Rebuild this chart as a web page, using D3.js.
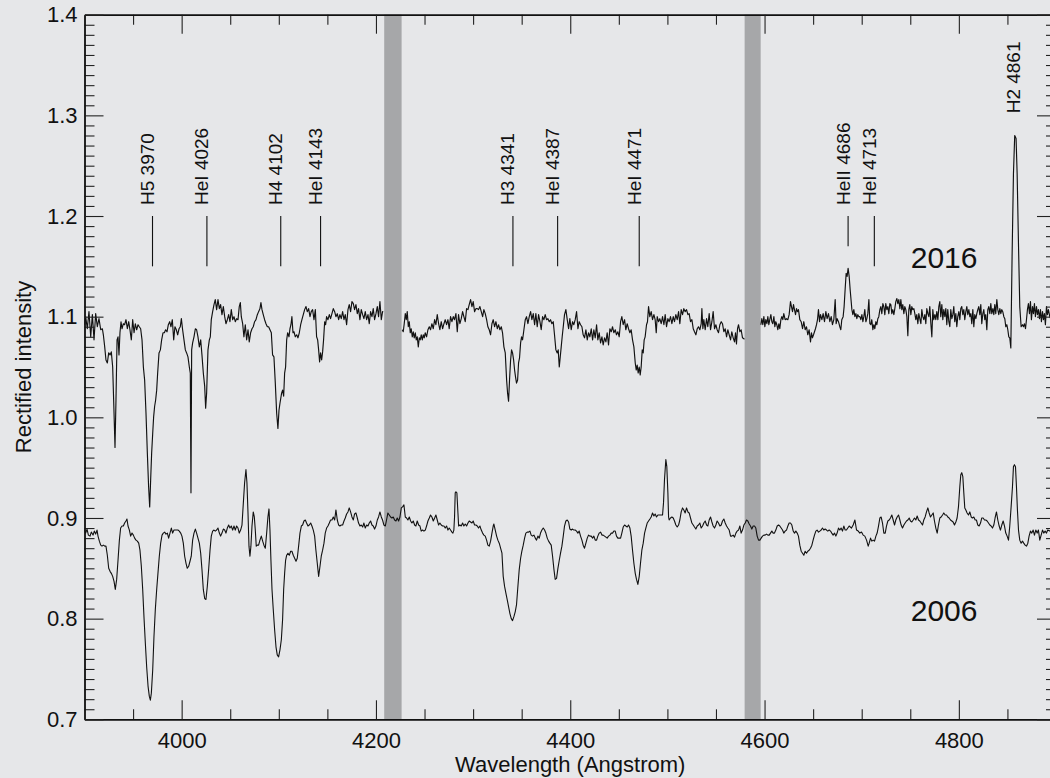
<!DOCTYPE html>
<html><head><meta charset="utf-8">
<script src="https://cdn.jsdelivr.net/npm/d3@7"></script>
<style>
html,body{margin:0;padding:0;background:#e6e7e9;}
svg{display:block;}
text{font-family:"Liberation Sans",Arial,Helvetica,sans-serif;fill:#111;}
</style>
</head><body>
<svg id="chart" width="1050" height="778"></svg>
<script>
// ---- data: [wavelength (Angstrom), rectified intensity]; null = masked gap ----
const spec2016 = [
[3900.0,1.092],[3901.2,1.100],[3902.9,1.088],[3904.6,1.105],[3906.4,1.080],[3908.1,1.102],[3909.8,1.077],[3911.5,1.103],[3913.2,1.090],[3914.9,1.098],[3916.7,1.087],[3918.4,1.088],[3919.4,1.082],[3920.8,1.070],[3922.1,1.057],[3923.5,1.054],[3924.9,1.064],[3926.3,1.062],[3927.6,1.065],[3929.0,1.050],[3930.4,1.004],[3931.4,0.970],[3932.4,1.017],[3933.5,1.077],[3934.5,1.080],[3935.5,1.062],[3936.5,1.084],[3937.6,1.095],[3938.6,1.088],[3940.0,1.093],[3941.3,1.092],[3942.7,1.097],[3944.1,1.088],[3945.5,1.095],[3946.8,1.087],[3948.2,1.077],[3949.6,1.097],[3951.0,1.084],[3952.3,1.093],[3953.7,1.087],[3955.1,1.092],[3956.4,1.090],[3957.8,1.088],[3959.2,1.077],[3960.6,1.050],[3961.9,1.037],[3963.3,1.004],[3964.7,0.964],[3966.0,0.931],[3967.1,0.911],[3968.1,0.938],[3969.1,0.964],[3970.2,0.984],[3971.2,1.001],[3972.2,1.011],[3973.2,1.017],[3974.3,1.027],[3975.3,1.044],[3976.7,1.064],[3978.1,1.067],[3979.4,1.077],[3980.8,1.084],[3982.2,1.084],[3983.5,1.087],[3984.9,1.085],[3986.3,1.092],[3987.7,1.095],[3989.0,1.090],[3990.4,1.097],[3991.8,1.077],[3993.1,1.090],[3994.5,1.087],[3995.9,1.082],[3997.3,1.088],[3998.6,1.090],[3999.7,1.098],[4001.0,1.087],[4002.4,1.077],[4003.8,1.067],[4005.1,1.064],[4006.5,1.060],[4007.9,1.050],[4008.9,1.044],[4009.6,0.925],[4010.3,1.067],[4011.3,1.074],[4012.7,1.080],[4014.1,1.088],[4015.4,1.087],[4016.8,1.080],[4018.2,1.070],[4019.6,1.077],[4020.9,1.062],[4022.3,1.044],[4023.7,1.031],[4024.7,1.009],[4025.7,1.024],[4027.1,1.067],[4028.5,1.077],[4029.5,1.080],[4030.5,1.097],[4031.9,1.105],[4033.3,1.112],[4034.6,1.117],[4036.0,1.107],[4037.4,1.117],[4038.8,1.108],[4040.1,1.112],[4041.5,1.102],[4042.9,1.110],[4044.3,1.100],[4045.6,1.093],[4047.0,1.097],[4048.4,1.102],[4049.7,1.095],[4051.1,1.107],[4052.5,1.097],[4053.9,1.100],[4055.2,1.095],[4056.6,1.098],[4058.0,1.097],[4059.3,1.110],[4060.4,1.114],[4061.4,1.100],[4062.8,1.093],[4064.1,1.080],[4065.5,1.092],[4066.9,1.077],[4068.3,1.087],[4069.6,1.075],[4071.0,1.084],[4072.4,1.088],[4073.7,1.090],[4075.1,1.095],[4076.5,1.097],[4077.9,1.102],[4079.2,1.105],[4080.6,1.108],[4081.6,1.114],[4082.7,1.107],[4084.0,1.102],[4085.4,1.097],[4086.8,1.093],[4088.2,1.090],[4089.5,1.090],[4090.9,1.087],[4092.3,1.084],[4093.6,1.062],[4095.0,1.060],[4096.4,1.034],[4097.8,1.004],[4099.1,0.989],[4100.2,1.007],[4101.2,1.014],
[4102.9,1.024],[4103.9,1.027],[4105.0,1.021],[4106.0,1.044],[4107.0,1.050],[4108.1,1.077],[4109.1,1.084],[4110.5,1.080],[4111.5,1.088],[4112.5,1.092],[4113.5,1.100],[4114.6,1.084],[4115.6,1.085],[4117.0,1.080],[4118.4,1.082],[4119.7,1.079],[4121.1,1.084],[4122.5,1.092],[4123.8,1.097],[4125.2,1.102],[4126.6,1.107],[4128.0,1.110],[4129.3,1.105],[4130.7,1.108],[4132.1,1.100],[4133.4,1.105],[4134.8,1.107],[4136.2,1.097],[4137.6,1.107],[4138.9,1.080],[4140.0,1.077],[4141.0,1.067],[4142.0,1.055],[4143.0,1.064],[4144.1,1.057],[4145.1,1.065],[4146.1,1.077],[4147.2,1.095],[4148.2,1.092],[4149.2,1.100],[4150.6,1.097],[4152.0,1.102],[4153.3,1.098],[4154.7,1.103],[4156.1,1.108],[4157.5,1.105],[4158.8,1.100],[4160.2,1.103],[4161.6,1.097],[4162.9,1.102],[4164.3,1.098],[4165.7,1.105],[4167.1,1.097],[4168.4,1.102],[4169.8,1.092],[4171.2,1.107],[4172.5,1.112],[4173.9,1.105],[4175.3,1.115],[4176.7,1.113],[4178.0,1.107],[4179.4,1.112],[4180.8,1.103],[4182.1,1.108],[4183.5,1.097],[4184.9,1.107],[4186.3,1.102],[4187.6,1.098],[4189.0,1.105],[4190.4,1.097],[4191.8,1.102],[4193.1,1.093],[4194.5,1.105],[4195.9,1.100],[4197.2,1.108],[4198.6,1.097],[4200.0,1.103],[4201.4,1.110],[4202.7,1.100],[4204.1,1.115],[4205.5,1.097],[4206.8,1.105],[4207.5,1.105],
[4217.0,null],
[4227.1,1.087],[4228.1,1.085],[4229.1,1.093],[4230.2,1.103],[4231.2,1.097],[4232.2,1.105],[4233.3,1.090],[4234.3,1.095],[4235.3,1.084],[4236.3,1.088],[4237.4,1.080],[4238.4,1.085],[4239.4,1.079],[4240.5,1.084],[4241.5,1.077],[4242.5,1.080],[4243.6,1.070],[4244.6,1.079],[4245.6,1.077],[4246.6,1.082],[4247.7,1.077],[4248.7,1.082],[4249.7,1.079],[4250.7,1.084],[4252.1,1.080],[4253.5,1.087],[4254.9,1.090],[4256.2,1.087],[4257.6,1.093],[4259.0,1.088],[4260.4,1.097],[4261.7,1.092],[4263.1,1.102],[4264.5,1.093],[4265.8,1.087],[4267.2,1.095],[4268.6,1.088],[4270.0,1.093],[4271.3,1.097],[4272.7,1.092],[4274.1,1.097],[4275.4,1.088],[4276.8,1.100],[4278.2,1.095],[4279.6,1.100],[4280.9,1.097],[4282.3,1.103],[4283.7,1.085],[4285.0,1.102],[4286.4,1.093],[4287.8,1.098],[4289.2,1.105],[4290.5,1.100],[4291.9,1.095],[4293.3,1.108],[4294.7,1.107],[4296.0,1.112],[4297.4,1.117],[4298.8,1.110],[4300.1,1.115],[4301.5,1.105],[4302.9,1.108],
[4304.3,1.108],[4305.6,1.107],[4307.0,1.110],[4308.4,1.105],[4309.8,1.100],[4311.1,1.107],[4312.5,1.103],[4313.9,1.097],[4315.2,1.090],[4316.6,1.087],[4318.0,1.082],[4319.4,1.093],[4320.7,1.097],[4322.1,1.090],[4323.5,1.095],[4324.9,1.088],[4326.2,1.092],[4327.6,1.087],[4329.0,1.090],[4330.3,1.084],[4331.7,1.070],[4333.1,1.064],[4334.5,1.037],[4335.5,1.024],[4336.5,1.016],[4337.5,1.037],[4338.6,1.057],[4339.6,1.067],[4340.6,1.064],[4341.7,1.057],[4342.7,1.047],[4343.7,1.040],[4344.7,1.034],[4345.8,1.037],[4346.8,1.054],[4347.8,1.059],[4348.9,1.074],[4349.9,1.080],[4350.9,1.077],[4352.3,1.087],[4353.7,1.097],[4355.0,1.100],[4356.4,1.093],[4357.8,1.100],[4359.2,1.105],[4360.5,1.097],[4361.9,1.103],[4363.3,1.092],[4364.6,1.103],[4366.0,1.090],[4367.4,1.102],[4368.8,1.095],[4370.1,1.087],[4371.5,1.100],[4372.9,1.097],[4374.2,1.102],[4375.6,1.097],[4377.0,1.098],[4378.4,1.095],[4379.7,1.097],[4381.1,1.093],[4382.5,1.095],[4383.8,1.082],[4385.2,1.067],[4386.6,1.064],[4387.6,1.067],[4388.7,1.050],[4389.7,1.060],[4390.7,1.070],[4391.7,1.080],[4392.8,1.090],[4394.1,1.102],[4395.5,1.107],[4396.9,1.097],[4398.3,1.088],[4399.6,1.098],[4401.0,1.087],[4402.4,1.095],[4403.7,1.092],[4405.1,1.097],[4406.5,1.105],[4407.9,1.088],[4409.2,1.095],[4410.6,1.092],[4412.0,1.090],[4413.3,1.082],[4414.7,1.079],[4416.1,1.087],[4417.5,1.077],[4418.8,1.084],[4420.2,1.080],[4421.6,1.088],[4423.0,1.077],[4424.3,1.087],[4425.7,1.079],[4427.1,1.092],[4428.4,1.077],[4429.8,1.084],[4431.2,1.074],[4432.6,1.080],[4433.9,1.072],[4435.3,1.079],[4436.7,1.075],[4438.0,1.084],[4439.4,1.072],[4440.8,1.088],[4442.2,1.085],[4443.5,1.090],[4444.9,1.084],[4446.3,1.087],[4447.6,1.082],[4449.0,1.085],[4450.4,1.080],[4451.8,1.095],[4453.1,1.100],[4454.5,1.092],[4455.9,1.097],[4457.2,1.087],[4458.6,1.093],[4460.0,1.088],[4461.4,1.084],[4462.7,1.087],[4464.1,1.077],[4465.5,1.070],[4466.9,1.054],[4467.9,1.047],[4468.9,1.052],[4469.9,1.044],[4471.0,1.050],[4472.0,1.042],[4473.0,1.050],[4474.1,1.067],[4475.1,1.064],[4476.1,1.077],[4477.1,1.080],[4478.5,1.092],[4479.5,1.095],[4480.6,1.110],[4481.9,1.100],[4483.3,1.105],[4484.7,1.097],[4486.1,1.102],[4487.4,1.097],[4488.5,1.084],[4489.5,1.100],[4490.9,1.095],[4492.2,1.098],[4493.6,1.093],[4495.0,1.100],[4496.4,1.092],[4497.7,1.102],[4499.1,1.090],[4500.5,1.098],[4501.8,1.095],[4503.2,1.100],[4504.6,1.093],
[4506.0,1.100],[4507.3,1.095],[4508.7,1.102],[4510.1,1.097],[4511.5,1.105],[4512.8,1.093],[4514.2,1.107],[4515.6,1.102],[4516.9,1.108],[4518.3,1.105],[4519.7,1.107],[4521.1,1.102],[4522.4,1.103],[4523.8,1.095],[4525.2,1.097],[4526.6,1.088],[4527.9,1.085],[4529.3,1.082],[4530.7,1.088],[4532.0,1.090],[4533.4,1.087],[4534.8,1.093],[4535.5,1.108],[4536.5,1.088],[4537.5,1.097],[4538.9,1.087],[4540.3,1.098],[4541.6,1.090],[4543.0,1.103],[4544.4,1.087],[4545.8,1.095],[4547.1,1.105],[4548.5,1.088],[4549.9,1.092],[4551.2,1.087],[4552.6,1.084],[4554.0,1.092],[4555.4,1.095],[4556.7,1.093],[4558.1,1.085],[4559.5,1.088],[4560.9,1.080],[4562.2,1.087],[4563.6,1.082],[4565.0,1.077],[4566.3,1.085],[4567.7,1.079],[4569.1,1.075],[4570.1,1.084],[4571.1,1.073],[4572.2,1.088],[4573.2,1.092],[4574.6,1.085],[4575.9,1.087],[4577.3,1.079],[4578.7,1.078],[4579.4,1.078],
[4588.0,null],
[4596.2,1.092],[4597.2,1.098],[4598.2,1.092],[4599.3,1.100],[4600.3,1.090],[4601.3,1.097],[4602.4,1.093],[4603.4,1.100],[4604.4,1.092],[4605.4,1.097],[4606.5,1.102],[4607.5,1.095],[4608.5,1.093],[4609.6,1.100],[4610.6,1.090],[4611.6,1.095],[4612.6,1.092],[4613.7,1.087],[4614.7,1.093],[4615.7,1.088],[4616.8,1.097],[4617.8,1.100],[4618.8,1.097],[4619.8,1.103],[4621.2,1.097],[4622.6,1.098],[4624.0,1.097],[4625.3,1.102],[4626.7,1.115],[4627.7,1.110],[4628.8,1.105],[4629.8,1.112],[4630.8,1.107],[4631.9,1.102],[4632.9,1.108],[4633.9,1.105],[4634.9,1.107],[4636.3,1.097],[4637.7,1.095],[4639.1,1.088],[4640.4,1.095],[4641.8,1.087],[4643.2,1.090],[4644.5,1.082],[4645.9,1.087],[4647.3,1.075],[4648.3,1.084],[4649.3,1.079],[4650.4,1.082],[4651.4,1.085],[4652.4,1.088],[4653.5,1.092],[4654.5,1.097],[4655.5,1.107],[4656.6,1.095],[4657.6,1.102],[4659.0,1.097],[4660.3,1.103],[4661.7,1.095],[4663.1,1.105],[4664.4,1.098],[4665.8,1.103],[4667.2,1.095],[4668.6,1.100],[4669.9,1.092],[4671.3,1.097],[4672.7,1.117],[4673.7,1.093],[4674.7,1.098],[4676.1,1.095],[4677.5,1.090],[4678.5,1.087],[4679.5,1.097],[4680.9,1.100],[4681.9,1.110],[4683.0,1.128],[4684.0,1.143],[4685.0,1.140],[4686.0,1.148],[4687.1,1.140],[4688.1,1.127],
[4689.9,1.107],[4690.9,1.102],[4691.9,1.107],[4693.0,1.100],[4694.0,1.103],[4695.0,1.098],[4696.0,1.102],[4697.1,1.100],[4698.1,1.100],[4699.1,1.097],[4700.2,1.102],[4701.2,1.095],[4702.2,1.100],[4703.2,1.107],[4704.3,1.095],[4705.3,1.098],[4706.3,1.103],[4707.4,1.117],[4708.4,1.093],[4709.4,1.092],[4710.4,1.097],[4711.5,1.087],[4712.5,1.092],[4713.5,1.088],[4714.6,1.095],[4715.6,1.092],[4716.6,1.098],[4717.6,1.100],[4718.7,1.107],[4719.7,1.110],[4720.7,1.103],[4721.8,1.113],[4722.8,1.110],[4723.8,1.102],[4724.8,1.113],[4725.9,1.107],[4726.9,1.110],[4727.9,1.103],[4729.0,1.113],[4730.0,1.112],[4731.0,1.103],[4732.0,1.107],[4733.1,1.102],[4734.1,1.108],[4735.1,1.115],[4736.2,1.118],[4737.2,1.113],[4738.2,1.117],[4739.3,1.108],[4740.3,1.117],[4741.3,1.107],[4742.3,1.112],[4743.4,1.103],[4744.4,1.110],[4745.4,1.107],[4746.5,1.100],[4747.5,1.081],[4748.5,1.107],[4749.5,1.112],[4750.6,1.102],[4751.6,1.110],[4752.6,1.107],[4753.7,1.108],[4754.7,1.103],[4755.7,1.097],[4756.7,1.102],[4757.8,1.093],[4758.8,1.103],[4759.8,1.098],[4760.9,1.093],[4761.9,1.107],[4762.9,1.100],[4763.9,1.097],[4765.0,1.102],[4766.0,1.093],[4767.0,1.108],[4768.1,1.103],[4769.1,1.100],[4770.1,1.110],[4771.2,1.093],[4772.2,1.080],[4773.2,1.107],[4774.2,1.097],[4775.3,1.102],[4776.3,1.097],[4777.3,1.105],[4778.4,1.097],[4779.4,1.110],[4780.4,1.115],[4781.4,1.100],[4782.5,1.112],[4783.5,1.097],[4784.5,1.107],[4785.6,1.100],[4786.6,1.108],[4787.6,1.092],[4788.6,1.107],[4789.7,1.095],[4790.7,1.090],[4791.7,1.107],[4792.8,1.098],[4793.8,1.102],[4794.8,1.110],[4795.8,1.095],[4796.9,1.103],[4797.9,1.090],[4798.9,1.100],[4800.0,1.105],[4801.0,1.097],[4802.0,1.108],[4803.0,1.110],[4804.1,1.102],[4805.1,1.107],[4806.1,1.097],[4807.2,1.105],[4808.2,1.110],[4809.2,1.102],[4810.3,1.107],[4811.3,1.100],[4812.3,1.103],[4813.3,1.093],[4814.4,1.107],[4815.4,1.090],[4816.4,1.102],[4817.5,1.098],[4818.5,1.103],[4819.5,1.107],[4820.5,1.110],[4821.6,1.102],[4822.6,1.112],[4823.6,1.093],[4824.7,1.103],[4825.7,1.107],[4826.7,1.097],[4827.7,1.102],[4828.8,1.087],[4829.8,1.107],[4830.8,1.110],[4831.9,1.103],[4832.9,1.113],[4833.9,1.103],[4835.0,1.108],[4836.0,1.102],[4837.0,1.112],[4838.0,1.103],[4839.1,1.117],[4840.1,1.107],[4841.1,1.102],[4842.2,1.108],[4843.2,1.103],[4844.2,1.107],[4845.2,1.105],[4846.3,1.100],[4847.3,1.098],[4848.3,1.090],[4849.4,1.092],[4850.4,1.087],[4851.4,1.080],[4852.4,1.079],[4853.5,1.069],[4854.8,1.160],[4856.2,1.242],[4857.5,1.280],[4858.9,1.277],[4860.0,1.242],[4861.3,1.176],[4862.7,1.110],[4864.1,1.090],[4865.5,1.092],[4866.5,1.090],[4867.5,1.093],[4868.6,1.088],[4869.6,1.097],[4870.6,1.107],[4871.6,1.113],[4872.7,1.103],[4873.7,1.115],[4874.7,1.097],[4875.8,1.110],[4876.8,1.103],[4877.8,1.113],[4878.8,1.100],[4879.9,1.110],[4880.9,1.102],[4881.9,1.107],[4883.0,1.098],[4884.0,1.107],[4885.0,1.095],[4886.1,1.105],[4887.1,1.097],[4888.1,1.103],[4889.1,1.092],[4890.2,1.110],[4891.2,1.102],[4892.2,1.107],[4893.6,1.100],[4896.0,1.095],[4899.0,1.104]
];

const spec2006 = [
[3900.0,0.888],[3901.2,0.885],[3902.6,0.889],[3904.0,0.883],[3905.7,0.882],[3907.0,0.886],[3908.8,0.883],[3910.1,0.887],[3911.5,0.884],[3912.9,0.888],[3913.9,0.882],[3915.3,0.877],[3916.7,0.873],[3918.0,0.872],[3919.4,0.873],[3920.8,0.872],[3922.1,0.872],[3923.5,0.863],[3924.9,0.850],[3926.3,0.847],[3927.6,0.845],[3929.0,0.842],[3930.4,0.837],[3931.7,0.829],[3933.1,0.839],[3934.5,0.858],[3935.9,0.878],[3937.2,0.890],[3938.6,0.892],[3940.0,0.892],[3941.3,0.895],[3942.7,0.897],[3943.7,0.899],[3944.8,0.892],[3946.2,0.888],[3947.5,0.882],[3948.9,0.885],[3950.3,0.883],[3951.6,0.880],[3953.0,0.878],[3954.4,0.877],[3955.8,0.875],[3957.1,0.868],[3958.5,0.852],[3959.9,0.829],[3961.2,0.802],[3962.6,0.776],[3964.0,0.752],[3965.4,0.733],[3966.7,0.723],[3967.8,0.719],[3968.8,0.726],[3970.2,0.749],[3971.5,0.782],[3972.9,0.809],[3974.3,0.829],[3975.6,0.845],[3977.0,0.862],[3978.4,0.875],[3979.8,0.883],[3981.1,0.885],[3982.5,0.886],[3983.9,0.884],[3985.3,0.885],[3986.6,0.880],[3988.0,0.885],[3989.4,0.890],[3990.7,0.885],[3992.1,0.888],[3994.2,0.888],[3996.2,0.888],[3997.6,0.887],[3999.0,0.885],[4000.3,0.882],[4001.7,0.875],[4003.1,0.862],[4004.5,0.855],[4005.8,0.850],[4007.2,0.852],[4008.6,0.857],[4009.9,0.862],[4011.3,0.878],[4012.7,0.885],[4014.1,0.889],[4015.4,0.885],[4016.8,0.880],[4018.2,0.875],[4019.6,0.865],[4020.9,0.849],[4022.3,0.829],[4023.7,0.820],[4025.0,0.819],[4026.4,0.832],[4027.8,0.849],[4029.2,0.868],[4030.5,0.882],[4031.9,0.887],[4033.3,0.888],[4034.6,0.887],[4036.0,0.888],[4037.4,0.890],[4038.8,0.885],[4040.1,0.882],[4041.5,0.885],[4042.9,0.889],[4044.3,0.888],[4045.6,0.885],[4047.0,0.890],[4048.4,0.893],[4049.7,0.890],[4051.1,0.892],[4052.5,0.888],[4053.9,0.892],[4055.2,0.888],[4056.6,0.892],[4058.0,0.890],[4059.3,0.885],[4060.7,0.888],[4062.1,0.893],[4063.5,0.915],[4064.8,0.935],[4066.2,0.948],[4067.2,0.935],[4068.3,0.905],[4069.3,0.872],[4070.3,0.862],[4071.3,0.872],[4072.4,0.892],[4073.7,0.906],[4074.8,0.901],[4075.8,0.888],[4076.8,0.872],[4077.9,0.873],[4079.2,0.873],[4080.6,0.878],[4082.0,0.882],[4083.4,0.877],[4084.7,0.873],[4086.1,0.870],[4087.5,0.885],[4088.8,0.901],[4089.9,0.909],[4090.9,0.888],[4091.9,0.858],[4093.0,0.829],[4094.3,0.809],[4095.7,0.789],[4097.1,0.772],[4098.4,0.764],[4099.8,0.762],[4101.2,0.769],
[4102.6,0.779],[4103.9,0.799],[4105.0,0.829],[4106.0,0.845],[4107.0,0.858],[4108.1,0.863],[4109.4,0.865],[4110.8,0.863],[4112.2,0.867],[4113.5,0.867],[4114.9,0.863],[4116.3,0.860],[4117.7,0.857],[4119.0,0.860],[4120.4,0.872],[4121.8,0.885],[4123.2,0.892],[4124.5,0.893],[4125.9,0.897],[4127.3,0.898],[4128.6,0.895],[4130.0,0.892],[4131.4,0.893],[4132.8,0.895],[4134.1,0.892],[4135.5,0.888],[4136.9,0.882],[4138.2,0.868],[4139.6,0.855],[4141.0,0.842],[4142.4,0.852],[4143.7,0.862],[4145.1,0.868],[4146.5,0.875],[4147.8,0.885],[4149.2,0.890],[4150.6,0.892],[4152.0,0.895],[4153.3,0.898],[4154.7,0.898],[4156.1,0.901],[4157.5,0.898],[4158.8,0.908],[4160.2,0.898],[4161.6,0.893],[4162.9,0.892],[4164.3,0.893],[4165.7,0.893],[4167.1,0.897],[4168.4,0.900],[4169.8,0.904],[4171.2,0.906],[4172.5,0.910],[4173.9,0.906],[4175.3,0.901],[4176.7,0.898],[4178.0,0.904],[4179.4,0.905],[4180.8,0.900],[4182.1,0.895],[4183.5,0.892],[4184.9,0.893],[4186.3,0.891],[4187.6,0.895],[4189.0,0.890],[4190.4,0.893],[4191.8,0.892],[4193.1,0.895],[4194.5,0.897],[4195.9,0.893],[4197.2,0.892],[4198.6,0.889],[4200.0,0.892],[4201.4,0.898],[4202.7,0.901],[4204.1,0.906],[4205.5,0.901],[4206.8,0.898],[4208.2,0.893],[4209.6,0.892],[4210.9,0.898],[4212.3,0.905],[4213.7,0.903],[4215.1,0.901],[4216.4,0.900],[4217.8,0.901],[4219.2,0.898],[4220.6,0.897],[4221.9,0.900],[4223.3,0.897],[4224.7,0.901],[4226.1,0.910],[4227.4,0.911],[4228.8,0.913],[4230.2,0.901],[4231.5,0.900],[4232.9,0.898],[4234.3,0.901],[4235.7,0.897],[4237.0,0.895],[4238.4,0.897],[4239.8,0.893],[4241.1,0.892],[4242.5,0.897],[4243.9,0.893],[4245.3,0.892],[4246.6,0.887],[4248.0,0.888],[4249.4,0.887],[4250.8,0.888],[4252.1,0.892],[4253.5,0.897],[4254.9,0.900],[4256.2,0.903],[4257.6,0.901],[4259.0,0.897],[4260.4,0.900],[4261.7,0.903],[4263.1,0.898],[4264.5,0.893],[4265.8,0.895],[4267.2,0.893],[4268.6,0.892],[4270.0,0.892],[4271.3,0.890],[4272.7,0.892],[4274.1,0.888],[4275.4,0.890],[4276.8,0.888],[4278.2,0.886],[4279.2,0.885],[4280.2,0.888],[4280.9,0.901],[4281.6,0.925],[4282.3,0.926],[4283.3,0.925],[4284.4,0.905],[4285.1,0.892],[4286.4,0.893],[4287.8,0.892],[4289.2,0.895],[4290.5,0.892],[4291.9,0.894],[4293.3,0.892],[4294.7,0.895],[4296.0,0.897],[4297.4,0.896],[4298.8,0.895],[4300.1,0.897],[4301.5,0.893],[4302.9,0.893],
[4304.3,0.892],[4305.6,0.890],[4307.0,0.892],[4308.4,0.888],[4309.8,0.885],[4311.1,0.883],[4312.5,0.882],[4313.9,0.878],[4315.2,0.873],[4316.6,0.872],[4318.0,0.877],[4319.4,0.885],[4320.7,0.892],[4321.4,0.894],[4322.8,0.888],[4324.2,0.882],[4325.5,0.878],[4326.9,0.875],[4328.3,0.870],[4329.7,0.865],[4331.0,0.842],[4332.4,0.832],[4333.8,0.825],[4335.1,0.819],[4336.5,0.812],[4337.9,0.805],[4339.3,0.800],[4340.6,0.798],[4342.0,0.802],[4343.4,0.807],[4344.7,0.814],[4346.1,0.832],[4347.5,0.849],[4348.9,0.860],[4350.2,0.867],[4351.6,0.873],[4353.0,0.880],[4354.3,0.885],[4355.7,0.886],[4357.1,0.886],[4358.5,0.887],[4359.8,0.883],[4361.2,0.882],[4362.6,0.883],[4364.0,0.880],[4365.3,0.878],[4366.7,0.882],[4368.1,0.880],[4369.4,0.885],[4370.8,0.888],[4372.2,0.890],[4373.6,0.888],[4374.9,0.885],[4376.3,0.880],[4377.7,0.877],[4379.0,0.875],[4380.4,0.873],[4381.8,0.862],[4383.2,0.849],[4384.5,0.839],[4385.9,0.840],[4387.3,0.850],[4388.7,0.858],[4390.0,0.865],[4391.4,0.872],[4392.8,0.882],[4394.1,0.892],[4395.5,0.897],[4396.9,0.898],[4398.3,0.896],[4399.6,0.889],[4401.0,0.888],[4402.4,0.889],[4403.7,0.888],[4405.1,0.888],[4406.5,0.887],[4407.9,0.885],[4409.2,0.887],[4410.6,0.882],[4412.0,0.878],[4413.3,0.873],[4414.7,0.870],[4416.1,0.875],[4417.5,0.880],[4418.8,0.883],[4420.2,0.882],[4421.6,0.882],[4423.0,0.880],[4424.3,0.882],[4425.7,0.878],[4427.1,0.878],[4428.4,0.882],[4429.8,0.885],[4431.2,0.886],[4432.6,0.883],[4433.9,0.883],[4435.3,0.882],[4436.7,0.881],[4438.0,0.880],[4439.4,0.882],[4440.8,0.883],[4442.2,0.885],[4443.5,0.885],[4444.9,0.887],[4446.3,0.887],[4447.6,0.882],[4449.0,0.880],[4450.4,0.880],[4451.8,0.880],[4453.1,0.885],[4454.5,0.891],[4455.9,0.893],[4457.2,0.892],[4458.6,0.891],[4460.0,0.893],[4461.4,0.890],[4462.7,0.882],[4464.1,0.868],[4465.5,0.855],[4466.9,0.845],[4468.2,0.839],[4469.6,0.834],[4471.0,0.842],[4472.3,0.855],[4473.7,0.868],[4475.1,0.875],[4476.5,0.885],[4477.8,0.890],[4479.2,0.895],[4480.6,0.897],[4482.0,0.899],[4483.3,0.901],[4484.7,0.905],[4486.1,0.902],[4487.4,0.904],[4488.8,0.901],[4490.2,0.903],[4491.6,0.903],[4492.9,0.903],[4494.3,0.903],[4495.0,0.903],[4496.0,0.915],[4497.0,0.938],[4498.4,0.958],[4499.4,0.951],[4500.5,0.925],[4501.2,0.901],[4501.8,0.898],[4503.2,0.900],[4504.6,0.901],
[4506.0,0.900],[4507.3,0.897],[4508.7,0.893],[4510.1,0.891],[4511.5,0.893],[4512.8,0.898],[4514.2,0.906],[4515.6,0.910],[4516.9,0.908],[4518.3,0.905],[4519.7,0.910],[4521.1,0.906],[4522.4,0.905],[4523.8,0.900],[4525.2,0.895],[4526.6,0.893],[4527.9,0.891],[4529.3,0.889],[4530.7,0.892],[4532.0,0.893],[4533.4,0.895],[4534.8,0.890],[4536.2,0.892],[4537.5,0.895],[4538.9,0.897],[4540.3,0.893],[4541.6,0.892],[4543.0,0.898],[4544.4,0.901],[4545.8,0.896],[4547.1,0.892],[4548.5,0.890],[4549.9,0.893],[4551.2,0.897],[4552.6,0.895],[4554.0,0.892],[4555.4,0.893],[4556.7,0.897],[4558.1,0.899],[4559.5,0.895],[4560.9,0.892],[4562.2,0.890],[4563.6,0.888],[4565.0,0.882],[4566.3,0.882],[4567.7,0.883],[4569.1,0.881],[4570.5,0.885],[4571.8,0.887],[4573.2,0.888],[4574.6,0.892],[4575.9,0.885],[4577.3,0.888],[4578.7,0.893],[4580.1,0.895],[4581.4,0.898],[4582.8,0.897],[4584.2,0.894],[4585.5,0.892],[4586.9,0.889],[4588.3,0.892],[4589.7,0.892],[4591.0,0.890],[4592.4,0.882],[4593.8,0.878],[4595.2,0.878],[4596.5,0.880],[4597.9,0.882],[4599.3,0.883],[4600.6,0.883],[4602.0,0.884],[4603.4,0.883],[4604.8,0.883],[4606.1,0.885],[4607.5,0.887],[4608.9,0.885],[4610.2,0.885],[4611.6,0.888],[4613.0,0.892],[4614.4,0.893],[4615.7,0.892],[4617.1,0.890],[4618.5,0.888],[4619.8,0.885],[4621.2,0.887],[4622.6,0.888],[4624.0,0.892],[4625.3,0.895],[4626.7,0.895],[4628.1,0.893],[4629.5,0.887],[4630.8,0.885],[4632.2,0.887],[4633.6,0.885],[4634.9,0.882],[4636.3,0.873],[4637.7,0.867],[4639.1,0.865],[4640.4,0.863],[4641.8,0.867],[4643.2,0.865],[4644.5,0.867],[4645.9,0.868],[4647.3,0.870],[4648.7,0.873],[4650.0,0.878],[4651.4,0.883],[4652.8,0.887],[4654.1,0.888],[4655.5,0.886],[4656.9,0.887],[4658.3,0.888],[4659.6,0.890],[4661.0,0.888],[4662.4,0.889],[4663.8,0.888],[4665.1,0.887],[4666.5,0.888],[4667.9,0.887],[4669.2,0.885],[4670.6,0.883],[4672.0,0.885],[4673.4,0.882],[4674.7,0.885],[4676.1,0.890],[4677.5,0.888],[4678.8,0.890],[4680.2,0.887],[4681.6,0.892],[4683.0,0.888],[4684.3,0.888],[4685.7,0.890],[4687.1,0.892],
[4689.5,0.890],[4691.2,0.893],[4693.0,0.898],[4694.7,0.888],[4696.4,0.887],[4698.1,0.885],[4699.8,0.886],[4701.5,0.883],[4703.2,0.882],[4705.0,0.878],[4706.7,0.872],[4707.7,0.875],[4709.1,0.880],[4710.4,0.877],[4711.8,0.878],[4713.2,0.877],[4714.6,0.882],[4715.9,0.885],[4717.3,0.892],[4718.7,0.900],[4720.0,0.901],[4721.4,0.895],[4722.8,0.885],[4724.2,0.885],[4725.5,0.892],[4726.9,0.897],[4728.3,0.898],[4729.6,0.900],[4731.0,0.903],[4732.4,0.898],[4733.8,0.893],[4735.1,0.898],[4736.5,0.901],[4737.9,0.903],[4739.3,0.898],[4740.6,0.893],[4742.0,0.890],[4743.4,0.893],[4744.7,0.895],[4746.1,0.897],[4747.5,0.898],[4748.9,0.900],[4750.2,0.897],[4751.6,0.896],[4753.0,0.898],[4754.3,0.900],[4755.7,0.898],[4757.1,0.902],[4758.5,0.898],[4759.8,0.897],[4761.2,0.895],[4762.6,0.893],[4763.9,0.898],[4765.3,0.901],[4766.7,0.906],[4768.1,0.910],[4769.4,0.905],[4770.8,0.901],[4772.2,0.903],[4773.6,0.905],[4774.9,0.897],[4776.3,0.890],[4777.7,0.885],[4779.0,0.893],[4780.4,0.900],[4781.8,0.901],[4783.2,0.903],[4784.5,0.905],[4785.9,0.903],[4787.3,0.903],[4788.6,0.901],[4790.0,0.900],[4791.4,0.898],[4792.8,0.897],[4794.1,0.896],[4795.5,0.893],[4796.9,0.896],[4798.2,0.900],[4799.6,0.911],[4801.0,0.931],[4802.0,0.943],[4803.0,0.945],[4804.1,0.941],[4805.1,0.925],[4806.1,0.910],[4807.2,0.908],[4808.5,0.905],[4809.9,0.903],[4811.3,0.906],[4812.7,0.901],[4814.0,0.900],[4815.4,0.901],[4816.8,0.898],[4818.1,0.898],[4819.5,0.893],[4820.9,0.892],[4822.3,0.895],[4823.6,0.900],[4825.0,0.900],[4826.4,0.898],[4827.7,0.898],[4829.1,0.897],[4830.5,0.895],[4831.9,0.893],[4833.2,0.892],[4834.6,0.890],[4836.0,0.893],[4837.3,0.900],[4838.7,0.906],[4840.1,0.898],[4841.5,0.892],[4842.8,0.888],[4844.2,0.893],[4845.6,0.897],[4847.0,0.892],[4848.3,0.885],[4849.7,0.882],[4851.1,0.878],[4852.4,0.892],[4853.8,0.911],[4855.2,0.931],[4856.2,0.951],[4857.2,0.953],[4858.3,0.951],[4859.3,0.931],[4860.3,0.908],[4861.4,0.888],[4862.7,0.878],[4864.1,0.875],[4865.5,0.877],[4866.8,0.875],[4868.2,0.873],[4869.6,0.872],[4871.0,0.875],[4872.3,0.882],[4873.7,0.887],[4875.1,0.885],[4876.5,0.888],[4877.8,0.883],[4879.2,0.888],[4880.6,0.885],[4881.9,0.888],[4883.3,0.878],[4884.7,0.883],[4886.1,0.888],[4887.4,0.885],[4888.8,0.887],[4890.2,0.885],[4891.5,0.888],[4893.6,0.887],[4897.0,0.889],[4900.0,0.887]
];

const maskedBands = [[4208.5, 4226.4], [4579.5, 4596.0]];
const lineNames = ["H5 3970","HeI 4026","H4 4102","HeI 4143","H3 4341","HeI 4387","HeI 4471","HeII 4686","HeI 4713","H2 4861"];
const lineWaves = [3970, 4026, 4102, 4143, 4341, 4387, 4471, 4686, 4713, 4861];
const xMajorTicks = [4000, 4200, 4400, 4600, 4800];
const yMajorTicks = [0.7, 0.8, 0.9, 1.0, 1.1, 1.2, 1.3, 1.4];
const yearLabels = ["2016", "2006"];
const yearLevels = [1.148, 0.798];

// ---- drawing ----
const svg = d3.select("#chart");
const X0 = 84.5, X1 = 1056, Y0 = 14.7, Y1 = 719.3;
const x = d3.scaleLinear().domain([3900, 4900]).range([X0, X1]);
const y = d3.scaleLinear().domain([0.7, 1.4]).range([Y1, Y0]);

svg.append("rect").attr("width",1050).attr("height",778).attr("fill","#e6e7e9");

svg.append("defs").append("clipPath").attr("id","plotclip")
  .append("rect").attr("x",X0).attr("y",Y0).attr("width",X1-X0).attr("height",Y1-Y0);

// masked bands
svg.append("g").selectAll("rect").data(maskedBands).join("rect")
  .attr("x", d => x(d[0])).attr("width", d => x(d[1]) - x(d[0]))
  .attr("y", Y0).attr("height", Y1 - Y0)
  .attr("fill", "#a6a7a9");

const line = d3.line()
  .defined(d => d[1] !== null)
  .x(d => x(d[0])).y(d => y(d[1]));

const plot = svg.append("g").attr("clip-path","url(#plotclip)");
plot.append("path").datum(spec2016).attr("d", line)
  .attr("fill","none").attr("stroke","#111").attr("stroke-width",1.15).attr("stroke-linejoin","round");
plot.append("path").datum(spec2006).attr("d", line)
  .attr("fill","none").attr("stroke","#111").attr("stroke-width",1.1).attr("stroke-linejoin","round");

// axes
const majorX = xMajorTicks;
const minorX = d3.range(3950, 4900, 50).filter(v => !majorX.includes(v));
const minorY = d3.range(70, 141).map(v => v / 100).filter(v => Math.round(v * 100) % 10 !== 0);

function styleAxis(g) {
  g.attr("font-size", null).attr("font-family", null);
  g.select(".domain").attr("stroke","#111").attr("stroke-width",1.4);
  g.selectAll(".tick line").attr("stroke","#222").attr("stroke-width",1.1);
  g.selectAll(".tick text").attr("fill","#111").style("font-size","22px")
    .style("font-family",'"Liberation Sans", Arial, Helvetica, sans-serif');
}

// bottom
svg.append("g").attr("transform",`translate(0,${Y1})`)
  .call(d3.axisBottom(x).tickValues(minorX).tickSize(-10).tickSizeOuter(0).tickFormat(""))
  .call(styleAxis);
svg.append("g").attr("transform",`translate(0,${Y1})`)
  .call(d3.axisBottom(x).tickValues(majorX).tickSize(-19).tickSizeOuter(0).tickPadding(13).tickFormat(d3.format("d")))
  .call(styleAxis);
// top
svg.append("g").attr("transform",`translate(0,${Y0})`)
  .call(d3.axisTop(x).tickValues(minorX).tickSize(-10).tickSizeOuter(0).tickFormat(""))
  .call(styleAxis);
svg.append("g").attr("transform",`translate(0,${Y0})`)
  .call(d3.axisTop(x).tickValues(majorX).tickSize(-19).tickSizeOuter(0).tickFormat(""))
  .call(styleAxis);
// left
svg.append("g").attr("transform",`translate(${X0},0)`)
  .call(d3.axisLeft(y).tickValues(minorY).tickSize(-10).tickSizeOuter(0).tickFormat(""))
  .call(styleAxis);
svg.append("g").attr("transform",`translate(${X0},0)`)
  .call(d3.axisLeft(y).tickValues(yMajorTicks).tickSize(-19).tickSizeOuter(0).tickPadding(7).tickFormat(d3.format(".1f")))
  .call(styleAxis);
// right
svg.append("g").attr("transform",`translate(${X1},0)`)
  .call(d3.axisRight(y).tickValues(minorY).tickSize(-10).tickSizeOuter(0).tickFormat(""))
  .call(styleAxis);
svg.append("g").attr("transform",`translate(${X1},0)`)
  .call(d3.axisRight(y).tickValues(yMajorTicks).tickSize(-19).tickSizeOuter(0).tickFormat(""))
  .call(styleAxis);

// spectral line markers
const marks = svg.append("g");
lineNames.forEach((name, i) => {
  const w = lineWaves[i];
  const isH2 = name === "H2 4861";
  if (!isH2) {
    const bottom = name === "HeII 4686" ? 1.17 : 1.15;
    marks.append("line")
      .attr("x1", x(w)).attr("x2", x(w))
      .attr("y1", y(1.2)).attr("y2", y(bottom))
      .attr("stroke","#111").attr("stroke-width",1.1);
  }
  const base = isH2 ? 1.302 : 1.211;
  marks.append("text")
    .attr("transform", `translate(${x(w) + 1.5},${y(base)}) rotate(-90)`)
    .attr("text-anchor","start")
    .style("font-size","19px")
    .text(name);
});

// year labels
yearLabels.forEach((t, i) => {
  svg.append("text").attr("x", x(4750.5)).attr("y", y(yearLevels[i]))
    .style("font-size","30px").text(t);
});

// axis titles
svg.append("text").attr("x", (X0 + X1) / 2).attr("y", 772)
  .attr("text-anchor","middle").style("font-size","22px").text("Wavelength (Angstrom)");
svg.append("text").attr("transform", `translate(31,${(Y0 + Y1) / 2}) rotate(-90)`)
  .attr("text-anchor","middle").style("font-size","22px").text("Rectified intensity");
</script>
</body></html>
